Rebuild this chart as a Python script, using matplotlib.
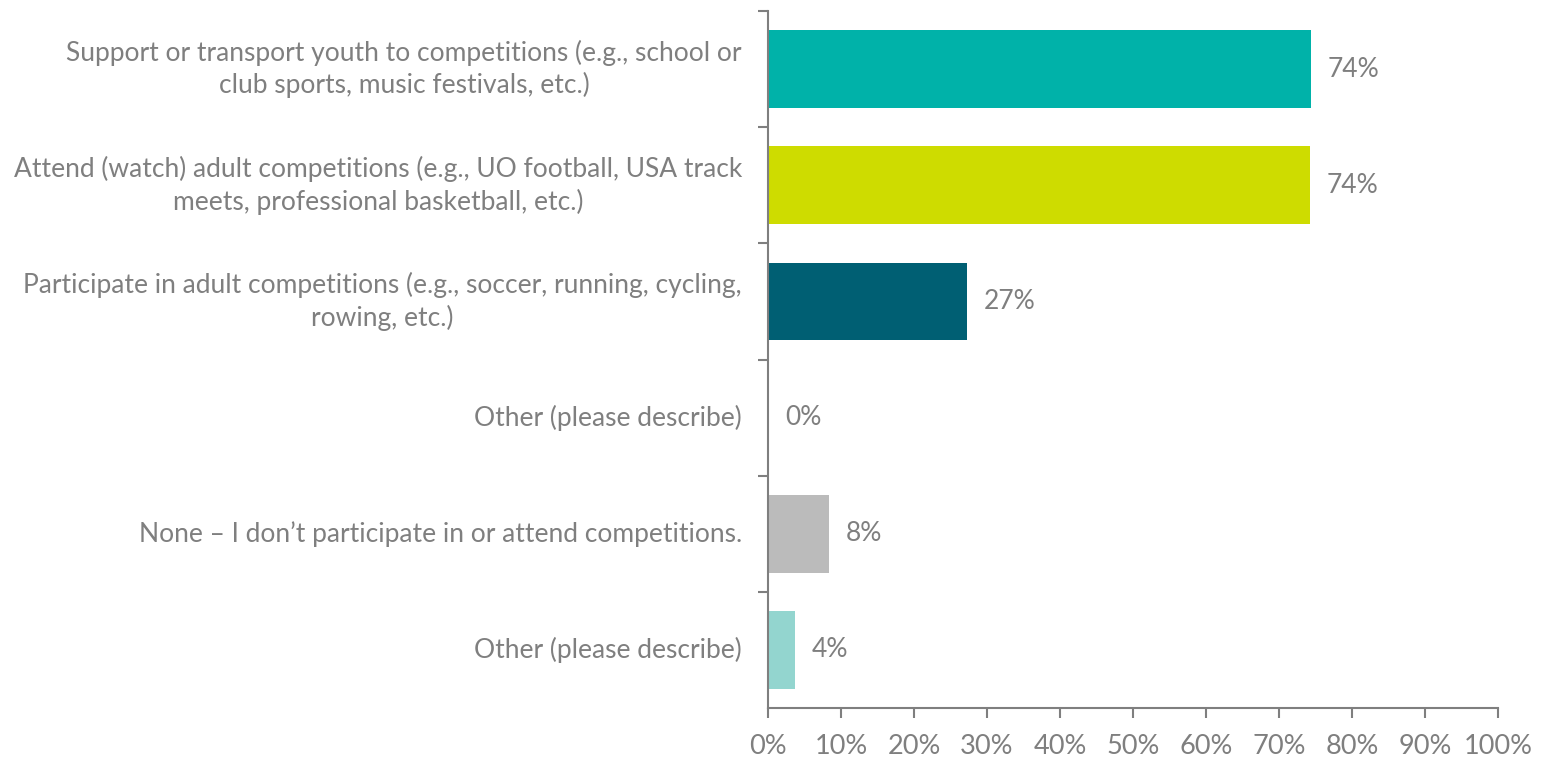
import matplotlib.pyplot as plt
from matplotlib.ticker import FixedLocator, PercentFormatter

# data
categories = [
    "Support or transport youth to competitions (e.g., school or\nclub sports, music festivals, etc.)",
    "Attend (watch) adult competitions (e.g., UO football, USA track\nmeets, professional basketball, etc.)",
    "Participate in adult competitions (e.g., soccer, running, cycling,\nrowing, etc.)",
    "Other (please describe)",
    "None \u2013 I don\u2019t participate in or attend competitions.",
    "Other (please describe)",
]
values = [74.4, 74.2, 27.2, 0.0, 8.3, 3.7]
value_labels = ["74%", "74%", "27%", "0%", "8%", "4%"]
colors = ["#00B2A9", "#CEDC00", "#005F73", "#00B2A9", "#BBBBBB", "#93D5CF"]

gray = "#7F7F7F"
plt.rcParams['font.family'] = ['Lato', 'DejaVu Sans']

fig = plt.figure(figsize=(15.41, 7.57), dpi=100)
ax = fig.add_axes([768 / 1541, 1 - 708 / 757, (1498 - 768) / 1541, (708 - 11) / 757])

ypos = list(range(len(categories)))
ax.barh(ypos, values, height=0.67, color=colors)
ax.set_ylim(len(categories) - 0.5, -0.5)
ax.set_xlim(0, 100)

for y, v, lab in zip(ypos, values, value_labels):
    ax.annotate(lab, (v, y), xytext=(17, 0), textcoords='offset pixels',
                va='center', ha='left', fontsize=19, color=gray)

# category labels as text, ticks at the boundaries
ax.set_yticks([y + 0.5 for y in ypos[:-1]] + [-0.5])
ax.set_yticklabels([])
for y, cat in zip(ypos, categories):
    ax.annotate(cat, (0, y), xytext=(-26, 0), textcoords='offset pixels',
                ha='right', va='center', multialignment='center',
                fontsize=19, color=gray, linespacing=1.3)

ax.xaxis.set_major_locator(FixedLocator(range(0, 101, 10)))
ax.xaxis.set_major_formatter(PercentFormatter(decimals=0))
ax.tick_params(axis='x', colors=gray, labelsize=19.5, length=7, width=1.5, pad=12)
ax.tick_params(axis='y', colors=gray, length=7, width=1.5)

for s in ['top', 'right']:
    ax.spines[s].set_visible(False)
for s in ['left', 'bottom']:
    ax.spines[s].set_color(gray)
    ax.spines[s].set_linewidth(1.5)

fig.savefig('out.png', dpi=100)
